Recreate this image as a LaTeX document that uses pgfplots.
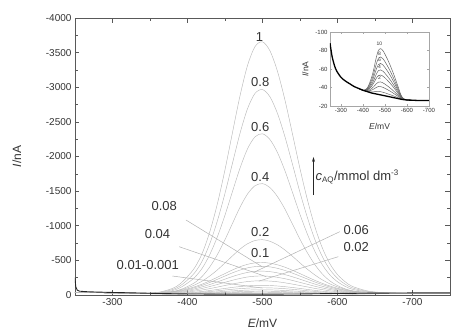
\documentclass[border=0pt]{standalone}
\usepackage{pgfplots}
\pgfplotsset{compat=1.18}
\usepackage{pgfplotstable}
\usepackage{fontspec}
\setmainfont{Liberation Sans}
\usetikzlibrary{arrows.meta}

\pgfplotstableread{
E c1 c08 c06 c04 c02 c01 c008 c006 c004 c002 c001 s1 s2 s3 s4
-250 -40 -40 -40 -40 -40 -40 -40 -40 -40 -40 -40 -40 -40 -40 -40
-300 -30 -30 -30 -30 -30 -30 -30 -30 -30 -30 -30 -30 -30 -30 -30
-340 -27 -26 -25 -23 -25 -25 -24 -23 -23 -22 -21 -21 -21 -20 -20
-360 -37 -33 -29 -25 -29 -29 -27 -25 -23 -21 -19 -18 -17 -16 -16
-380 -94 -78 -63 -47 -50 -45 -41 -35 -30 -25 -20 -17 -15 -13 -12
-390 -160 -131 -105 -76 -72 -63 -57 -49 -41 -33 -25 -21 -18 -15 -13
-400 -266 -217 -172 -122 -104 -88 -78 -67 -55 -43 -32 -26 -21 -18 -15
-410 -401 -327 -258 -181 -147 -120 -107 -90 -73 -57 -41 -33 -26 -21 -17
-420 -612 -498 -393 -274 -203 -159 -141 -119 -96 -73 -52 -41 -31 -25 -20
-430 -923 -750 -590 -410 -277 -206 -182 -152 -123 -93 -65 -50 -38 -29 -23
-440 -1324 -1076 -845 -586 -364 -257 -227 -190 -152 -115 -80 -61 -45 -34 -26
-450 -1809 -1469 -1154 -799 -463 -310 -274 -229 -183 -137 -95 -72 -52 -39 -30
-460 -2346 -1904 -1495 -1034 -565 -362 -320 -267 -213 -159 -110 -83 -60 -44 -33
-470 -2875 -2334 -1831 -1266 -662 -408 -360 -300 -239 -179 -122 -92 -66 -49 -36
-480 -3313 -2689 -2110 -1458 -740 -443 -392 -326 -260 -194 -132 -99 -71 -52 -38
-490 -3587 -2911 -2284 -1578 -787 -464 -410 -341 -272 -203 -138 -104 -74 -54 -40
-500 -3656 -2967 -2328 -1608 -799 -470 -415 -345 -275 -205 -140 -105 -75 -55 -40
-510 -3525 -2861 -2244 -1551 -776 -459 -406 -337 -269 -201 -137 -103 -74 -54 -39
-520 -3229 -2621 -2056 -1421 -724 -436 -385 -320 -255 -191 -130 -98 -70 -52 -38
-530 -2813 -2283 -1792 -1239 -649 -401 -354 -294 -235 -176 -120 -91 -65 -48 -35
-540 -2324 -1887 -1481 -1024 -559 -357 -316 -263 -210 -157 -108 -82 -59 -44 -33
-550 -1824 -1481 -1163 -805 -463 -309 -273 -228 -182 -137 -95 -72 -52 -39 -30
-560 -1371 -1114 -875 -607 -371 -259 -230 -192 -154 -116 -80 -61 -45 -34 -26
-570 -981 -797 -627 -436 -288 -211 -187 -157 -126 -95 -67 -52 -38 -30 -23
-580 -674 -549 -432 -301 -217 -167 -149 -125 -101 -77 -54 -42 -32 -25 -20
-590 -448 -365 -288 -202 -160 -129 -115 -97 -79 -60 -44 -35 -27 -22 -18
-600 -295 -241 -191 -135 -116 -97 -87 -74 -60 -47 -35 -28 -22 -19 -16
-610 -193 -158 -126 -90 -83 -72 -65 -55 -46 -36 -28 -23 -19 -16 -14
-620 -123 -102 -82 -60 -59 -53 -48 -41 -35 -28 -22 -19 -16 -14 -13
-640 -59 -51 -43 -34 -36 -33 -31 -28 -26 -23 -20 -19 -18 -17 -16
-660 -36 -33 -30 -26 -26 -25 -24 -23 -22 -21 -20 -19 -19 -19 -18
-700 -24 -23 -22 -22 -21 -21 -21 -21 -20 -20 -20 -20 -20 -20 -20
-750 -20 -20 -20 -20 -20 -20 -20 -20 -20 -20 -20 -20 -20 -20 -20
}\maindata

\pgfplotstableread{
E k1 k2 k3 k4 k5 k6 k7 k8
-380 -39 -39 -39 -39 -39 -39 -39 -39
-400 -37 -37 -37 -37 -37 -37 -37 -37
-420 -39.5 -38.8 -38.2 -37.7 -37.2 -36.6 -36.2 -35.8
-440 -51.5 -48.4 -45.9 -43.5 -41.5 -38.9 -37.2 -35.2
-450 -61 -56.1 -52.2 -48.4 -45.3 -41.2 -38.5 -35.4
-460 -72 -65 -59.5 -54.1 -49.8 -43.9 -40 -35.7
-470 -80 -71.5 -64.8 -58.2 -52.9 -45.8 -41.1 -35.8
-480 -82 -73 -66 -59 -53.5 -46 -41 -35.5
-490 -80 -71.3 -64.5 -57.7 -52.4 -45.1 -40.2 -34.9
-500 -76 -67.9 -61.6 -55.3 -50.4 -43.6 -39.1 -34.2
-520 -66 -59.5 -54.5 -49.4 -45.5 -40.1 -36.5 -32.5
-540 -54 -49.5 -46 -42.5 -39.8 -36 -33.5 -30.8
-560 -40.5 -38.3 -36.5 -34.8 -33.4 -31.5 -30.3 -28.9
-570 -33.5 -32.4 -31.6 -30.7 -30.1 -29.2 -28.6 -27.9
-580 -29 -28.6 -28.4 -28.1 -27.9 -27.6 -27.4 -27.1
-600 -26.5 -26.5 -26.5 -26.5 -26.5 -26.5 -26.5 -26.5
-650 -26 -26 -26 -26 -26 -26 -26 -26
-700 -26 -26 -26 -26 -26 -26 -26 -26
}\insetdata

\definecolor{axgray}{gray}{0.35}
\definecolor{txtgray}{gray}{0.2}

\begin{document}
\begin{tikzpicture}
\useasboundingbox (-75pt,-39pt) rectangle (376pt,295pt);
\begin{axis}[
  name=main, at={(0pt,0pt)}, anchor=south west,
  scale only axis, width=375pt, height=277pt,
  x dir=reverse, y dir=reverse,
  xmin=-750, xmax=-250, ymin=-4000, ymax=0,
  xtick={-300,-400,-500,-600,-700},
  ytick={0,-500,-1000,-1500,-2000,-2500,-3000,-3500,-4000},
  minor tick num=1,
  tick align=inside, major tick length=4.5pt, minor tick length=3pt,
  axis line style={axgray, line width=0.8pt},
  tick style={axgray, line width=0.6pt},
  every tick label/.append style={font=\fontsize{10}{12}\selectfont, text=txtgray},
  /pgf/number format/assume math mode=true,
  /pgf/number format/1000 sep={},
  xlabel={\textit{E}/mV}, ylabel={\textit{I}/nA},
  xlabel style={font=\fontsize{12}{14}\selectfont, text=txtgray, at={(axis description cs:0.5,-0.101)}, anchor=center},
  ylabel style={font=\fontsize{12}{14}\selectfont, text=txtgray, at={(axis description cs:-0.155,0.5)}, anchor=center, rotate=0},
]
\pgfplotsinvokeforeach{c1,c08,c06,c04,c02,c01,c008,c006,c004,c002,c001,s1,s2,s3,s4}{
  \addplot[gray!55, line width=0.45pt, smooth, no markers] table[x=E, y=#1]{\maindata};
}
\addplot[black!85, line width=0.9pt, no markers] coordinates {
(-250,-250) (-251,-120) (-253,-70) (-256,-55) (-265,-48) (-280,-42) (-300,-37) (-330,-30) (-360,-22) (-400,-15) (-450,-12) (-500,-12) (-550,-15) (-600,-22) (-650,-27) (-700,-30) (-750,-30)};

% leader lines
\draw[gray!60, line width=0.5pt] (axis cs:-398,-1083) -- (axis cs:-500,-405);
\draw[gray!60, line width=0.5pt] (axis cs:-389,-697) -- (axis cs:-505,-265);
\draw[gray!60, line width=0.5pt] (axis cs:-380,-274) -- (axis cs:-500,-100);
\draw[gray!60, line width=0.5pt] (axis cs:-603,-914) -- (axis cs:-490,-335);
\draw[gray!60, line width=0.5pt] (axis cs:-601,-553) -- (axis cs:-495,-200);

\tikzset{lab/.style={font=\fontsize{13}{15}\selectfont, text=txtgray, inner sep=0pt}}
\node[lab] at (axis cs:-496,-3730) {1};
\node[lab] at (axis cs:-497,-3080) {0.8};
\node[lab] at (axis cs:-497,-2430) {0.6};
\node[lab] at (axis cs:-497,-1708) {0.4};
\node[lab] at (axis cs:-497,-905) {0.2};
\node[lab] at (axis cs:-497,-602) {0.1};
\node[lab] at (axis cs:-369,-1285) {0.08};
\node[lab] at (axis cs:-360,-881) {0.04};
\node[lab] at (axis cs:-347,-433) {0.01-0.001};
\node[lab] at (axis cs:-625,-939) {0.06};
\node[lab] at (axis cs:-625,-697) {0.02};

\draw[-{Stealth[length=5pt,width=3pt]}, black!85, line width=0.6pt] (axis cs:-568,-1444) -- (axis cs:-568,-1993);
\node[lab, anchor=west] at (axis cs:-570.5,-1704) {\textit{c}\textsubscript{\fontsize{8}{9}\selectfont AQ}/mmol dm\textsuperscript{\fontsize{8}{9}\selectfont -3}};
\end{axis}

\begin{axis}[
  name=inset, at={(255pt,189pt)}, anchor=south west,
  scale only axis, width=99pt, height=74pt,
  x dir=reverse, y dir=reverse,
  xmin=-700, xmax=-250, ymin=-100, ymax=-20,
  xtick={-300,-400,-500,-600,-700},
  ytick={-100,-80,-60,-40,-20},
  tick align=inside, major tick length=2pt,
  axis line style={gray!70, line width=0.5pt},
  tick style={gray!70, line width=0.4pt},
  axis background/.style={fill=white},
  every tick label/.append style={font=\fontsize{6}{7}\selectfont, text=txtgray},
  xticklabel style={yshift=1pt},
  yticklabel style={xshift=1pt},
  /pgf/number format/assume math mode=true,
  xlabel={\textit{E}/mV}, ylabel={\textit{I}/nA},
  xlabel style={font=\fontsize{8.5}{10}\selectfont, text=txtgray, at={(axis description cs:0.5,-0.28)}, anchor=center},
  ylabel style={font=\fontsize{8.5}{10}\selectfont, text=txtgray, at={(axis description cs:-0.25,0.5)}, anchor=center},
]
\pgfplotsinvokeforeach{k1,k2,k3,k4,k5,k6,k7,k8}{
  \addplot[black!60, line width=0.5pt, smooth, no markers] table[x=E, y=#1]{\insetdata};
}
\addplot[black, line width=1.3pt, smooth, no markers] coordinates {
(-250,-88) (-255,-80) (-260,-73) (-270,-64) (-280,-58) (-300,-51) (-320,-47) (-340,-44) (-360,-41) (-380,-39) (-400,-37) (-420,-35.5) (-440,-34) (-460,-33) (-480,-32) (-500,-31) (-520,-30) (-540,-29) (-560,-28) (-580,-27) (-600,-26.5) (-650,-26) (-700,-26)};
\tikzset{ilab/.style={font=\fontsize{5}{6}\selectfont, text=txtgray, inner sep=0.3pt, fill=white}}
\node[ilab] at (axis cs:-475,-87) {10};
\node[ilab] at (axis cs:-475,-76.5) {8};
\node[ilab] at (axis cs:-475,-69.5) {6};
\node[ilab] at (axis cs:-475,-62) {4};
\node[ilab] at (axis cs:-475,-50) {2};
\end{axis}
\end{tikzpicture}
\end{document}
